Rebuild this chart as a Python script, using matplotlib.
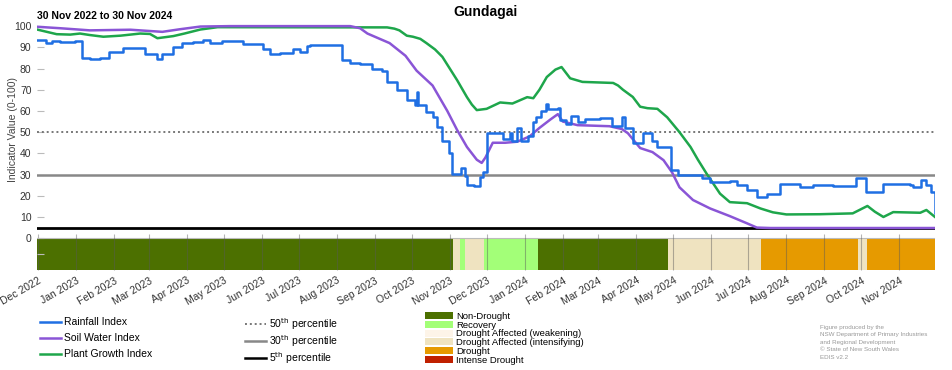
import numpy as np
import pandas as pd
import matplotlib
matplotlib.use("Agg")
import matplotlib.pyplot as plt
import matplotlib.dates as mdates
from matplotlib.lines import Line2D
from matplotlib.patches import Patch

plt.rcParams['font.family'] = ['Liberation Sans', 'DejaVu Sans']

# Rainfall Index (step changes)
rain_dates = ['2022-11-30', '2022-12-07', '2022-12-12', '2022-12-19', '2022-12-31', '2023-01-06',
              '2023-01-12', '2023-01-20', '2023-01-28', '2023-02-08', '2023-02-26', '2023-03-08',
              '2023-03-12', '2023-03-21', '2023-03-28', '2023-04-06', '2023-04-14', '2023-04-20',
              '2023-04-30', '2023-05-12', '2023-05-17', '2023-06-02', '2023-06-08', '2023-06-16',
              '2023-06-26', '2023-07-02', '2023-07-08', '2023-07-10', '2023-08-05', '2023-08-12',
              '2023-08-20', '2023-08-30', '2023-09-07', '2023-09-11', '2023-09-19', '2023-09-27',
              '2023-10-04', '2023-10-05', '2023-10-06', '2023-10-13', '2023-10-18', '2023-10-22',
              '2023-10-26', '2023-10-31', '2023-11-03', '2023-11-10', '2023-11-13', '2023-11-15',
              '2023-11-21', '2023-11-26', '2023-11-28', '2023-12-01', '2023-12-12', '2023-12-14',
              '2023-12-20', '2023-12-22', '2023-12-26', '2023-12-29', '2024-01-04', '2024-01-08',
              '2024-01-10', '2024-01-14', '2024-01-18', '2024-01-20', '2024-01-28', '2024-01-30',
              '2024-02-04', '2024-02-08', '2024-02-13', '2024-02-19', '2024-03-02', '2024-03-12',
              '2024-03-20', '2024-03-23', '2024-03-29', '2024-04-06', '2024-04-14', '2024-04-18',
              '2024-04-29', '2024-05-05', '2024-05-24', '2024-05-31', '2024-06-16', '2024-06-22',
              '2024-06-30', '2024-07-08', '2024-07-16', '2024-07-27', '2024-08-12', '2024-08-23',
              '2024-09-08', '2024-09-27', '2024-10-05', '2024-10-19', '2024-11-10', '2024-11-12',
              '2024-11-19', '2024-11-23', '2024-11-27', '2024-11-30']
rain_vals = [93.5, 92, 93, 92.3, 93, 85,
             84.3, 85, 88, 89.5, 87, 84.5,
             87, 90, 92, 92.5, 93.5, 92,
             93, 93, 91.5, 89, 87, 87.5,
             89, 88, 90.5, 91, 84, 82.5,
             82, 80, 79, 73.5, 70, 65,
             63, 69, 63, 59.5, 57, 52.5,
             46, 40, 30.5, 33, 29.5, 25,
             24.5, 29, 31, 49.5, 49.5, 47,
             49.5, 46, 52, 46, 48, 55,
             57, 60, 63.5, 61, 61.5, 55.5,
             54, 57.5, 55, 56, 56.5, 53,
             57, 52, 45, 49.5, 46, 43,
             32, 30, 28.5, 26.5, 27, 25,
             22.6, 19.5, 21, 25.5, 24, 25,
             24.5, 28.2, 21.7, 25.5, 25, 24,
             27.4, 25, 22, 11.8]

# Soil Water Index
soil_dates = ['2022-11-30', '2022-12-19', '2023-01-12', '2023-02-14', '2023-03-12', '2023-03-26',
              '2023-04-12', '2023-05-06', '2023-08-12', '2023-08-20', '2023-08-26', '2023-09-13',
              '2023-09-26', '2023-10-05', '2023-10-18', '2023-10-30', '2023-11-07', '2023-11-15',
              '2023-11-23', '2023-11-27', '2023-11-30', '2023-12-06', '2023-12-16', '2023-12-26',
              '2024-01-05', '2024-01-13', '2024-01-22', '2024-01-28', '2024-02-01', '2024-02-13',
              '2024-03-10', '2024-03-20', '2024-03-25', '2024-04-04', '2024-04-14', '2024-04-23',
              '2024-04-30', '2024-05-06', '2024-05-17', '2024-05-31', '2024-06-16', '2024-06-30',
              '2024-07-08', '2024-07-19', '2024-11-30']
soil_vals = [99.7, 99, 98, 98.3, 97.3, 98.5,
             99.8, 100, 100, 99, 96.5, 92,
             86, 79, 72, 60, 51, 43,
             37, 35.5, 38, 45, 45, 45.5,
             48, 52, 56, 58.5, 55, 53.3,
             52.8, 51.5, 49.5, 42.5, 40.6, 36.8,
             31, 24, 18, 14, 10.4, 7,
             5, 4.8, 4.8]

# Plant Growth Index
plant_dates = ['2022-11-30', '2022-12-08', '2022-12-16', '2022-12-27', '2023-01-04', '2023-01-12',
               '2023-01-23', '2023-02-06', '2023-02-22', '2023-03-02', '2023-03-08', '2023-03-21',
               '2023-03-30', '2023-04-12', '2023-04-26', '2023-09-11', '2023-09-17', '2023-09-21',
               '2023-09-27', '2023-10-02', '2023-10-08', '2023-10-13', '2023-10-20', '2023-10-26',
               '2023-11-01', '2023-11-07', '2023-11-15', '2023-11-19', '2023-11-23', '2023-12-01',
               '2023-12-12', '2023-12-22', '2023-12-28', '2024-01-03', '2024-01-08', '2024-01-13',
               '2024-01-19', '2024-01-26', '2024-01-31', '2024-02-07', '2024-02-17', '2024-03-13',
               '2024-03-17', '2024-03-21', '2024-03-29', '2024-04-04', '2024-04-10', '2024-04-18',
               '2024-04-26', '2024-05-06', '2024-05-15', '2024-05-21', '2024-05-28', '2024-06-08',
               '2024-06-16', '2024-06-30', '2024-07-11', '2024-07-21', '2024-08-01', '2024-08-28',
               '2024-09-24', '2024-10-06', '2024-10-12', '2024-10-19', '2024-10-27', '2024-11-18',
               '2024-11-23', '2024-11-30']
plant_vals = [98.4, 97.3, 96.2, 96, 96.5, 95.8,
              95, 95.5, 96.5, 96.3, 94.3, 95.3,
              96.5, 98.4, 99.5, 99.4, 98.8, 98,
              95.5, 95, 94, 92, 89, 85.5,
              80, 74.5, 66.5, 63, 60.4, 61,
              64, 63.5, 65, 66.5, 66, 70,
              76, 79.5, 80.7, 75.4, 73.7, 73.2,
              72, 70, 66.6, 62, 61.3, 61,
              57, 50, 43, 37, 30.5, 21,
              17, 16.5, 14, 12.2, 11.2, 11.3,
              11.7, 15.2, 12.5, 10, 12.3, 12,
              13.3, 10]

# drought category periods (start dates, last one ends at end_date)
cat_starts = ['2022-11-30', '2023-11-04', '2023-11-09', '2023-11-13', '2023-11-29', '2024-01-12',
              '2024-04-27', '2024-07-11', '2024-09-28', '2024-10-06']
cat_names = ['Non-Drought', 'Drought Affected (intensifying)', 'Recovery', 'Drought Affected (intensifying)',
             'Recovery', 'Non-Drought', 'Drought Affected (intensifying)', 'Drought',
             'Drought Affected (intensifying)', 'Drought']
start_date = '2022-11-30'
end_date = '2024-11-30'

cat_colors = {
    'Non-Drought': '#4c7000',
    'Recovery': '#a3ff78',
    'Drought Affected (weakening)': '#fdf4e8',
    'Drought Affected (intensifying)': '#efe3c0',
    'Drought': '#e69a00',
    'Intense Drought': '#c02000',
}

pct_vals = [50, 30, 5]

c_rain = '#1f6fe3'
c_soil = '#8a55d6'
c_plant = '#1ea64b'

fig = plt.figure(figsize=(9.52, 3.70), dpi=100)
ax = fig.add_axes([37 / 952, 1 - 270 / 370, 898 / 952, 246 / 370])

x0 = pd.Timestamp(start_date)
x1 = pd.Timestamp(end_date)

# drought bar below zero
starts = pd.to_datetime(cat_starts)
ends = list(starts[1:]) + [x1]
for s, e, name in zip(starts, ends, cat_names):
    ax.axvspan(s, e, ymin=0, ymax=15 / 116, color=cat_colors[name], lw=0, zorder=1)
ax.axhline(0, color='#bbbbbb', lw=0.8, zorder=1.5)

# percentile lines
ax.axhline(pct_vals[0], color='#777777', lw=1.4, ls=(0, (1, 1.5)), zorder=2)
ax.axhline(pct_vals[1], color='#888888', lw=1.8, zorder=2)
ax.axhline(pct_vals[2], color='black', lw=2, zorder=2)

ax.plot(pd.to_datetime(plant_dates), plant_vals, color=c_plant, lw=1.8, zorder=3)
ax.plot(pd.to_datetime(soil_dates), soil_vals, color=c_soil, lw=1.8, zorder=4)
ax.plot(pd.to_datetime(rain_dates), rain_vals, color=c_rain, lw=1.8, drawstyle='steps-post', zorder=5)

ax.set_xlim(x0, x1)
ax.set_ylim(-15, 101)
for sp in ax.spines.values():
    sp.set_visible(False)

ax.set_yticks([-7.5] + list(range(0, 101, 10)))
ax.set_yticklabels([''] + [str(v) for v in range(0, 101, 10)], fontsize=7.5, color='#333333')
ax.tick_params(axis='y', direction='in', length=5, color='#bbbbbb', pad=4)

ax.xaxis.set_major_locator(mdates.MonthLocator(bymonthday=1))
ax.xaxis.set_major_formatter(mdates.DateFormatter('%b %Y'))
ax.tick_params(axis='x', direction='in', length=26, color=(0.35, 0.35, 0.35, 0.45), width=0.8,
               labelsize=7.5, labelcolor='#333333', pad=4)
for lab in ax.get_xticklabels():
    lab.set_rotation(30)
    lab.set_ha('right')
    lab.set_rotation_mode('anchor')

ax.set_ylabel('Indicator Value (0-100)', fontsize=7.5, color='#444444')
ax.yaxis.set_label_coords(-0.021, 0.57)
ax.set_title('Gundagai', fontsize=10, fontweight='bold', pad=6)
fig.text(37 / 952, 1 - 21 / 370, '30 Nov 2022 to 30 Nov 2024', fontsize=7.5, fontweight='bold',
         ha='left', va='bottom')

# legends
h1 = [Line2D([], [], color=c_rain, lw=1.8), Line2D([], [], color=c_soil, lw=1.8),
      Line2D([], [], color=c_plant, lw=1.8)]
leg1 = fig.legend(h1, ['Rainfall Index', 'Soil Water Index', 'Plant Growth Index'],
                  loc='upper left', bbox_to_anchor=(35 / 952, 1 - 312 / 370), frameon=False,
                  fontsize=7.5, handlelength=2.0, handletextpad=0.3, labelspacing=0.58, borderpad=0)

h2 = [Line2D([], [], color='#777777', lw=1.4, ls=(0, (1, 1.5))), Line2D([], [], color='#888888', lw=1.8),
      Line2D([], [], color='black', lw=1.8)]
leg2 = fig.legend(h2, ['50$^{\\mathrm{th}}$ percentile', '30$^{\\mathrm{th}}$ percentile',
                       '5$^{\\mathrm{th}}$ percentile'],
                  loc='upper left', bbox_to_anchor=(240 / 952, 1 - 311 / 370), frameon=False,
                  fontsize=7.5, handlelength=2.0, handletextpad=0.3, labelspacing=0.1, borderpad=0)

h3 = [Patch(facecolor=c, edgecolor='none') for c in cat_colors.values()]
leg3 = fig.legend(h3, list(cat_colors.keys()), loc='upper left', bbox_to_anchor=(420 / 952, 1 - 307 / 370),
                  frameon=False, fontsize=6.8, handlelength=3.0, handleheight=0.75, handletextpad=0.3,
                  labelspacing=-0.02, borderpad=0)

fig.text(820 / 952, 1 - 325 / 370,
         'Figure produced by the\nNSW Department of Primary Industries\nand Regional Development\n'
         '\u00a9 State of New South Wales\nEDIS v2.2',
         fontsize=4.5, color='#999999', ha='left', va='top', linespacing=1.6)

fig.savefig('out.png', dpi=100)
